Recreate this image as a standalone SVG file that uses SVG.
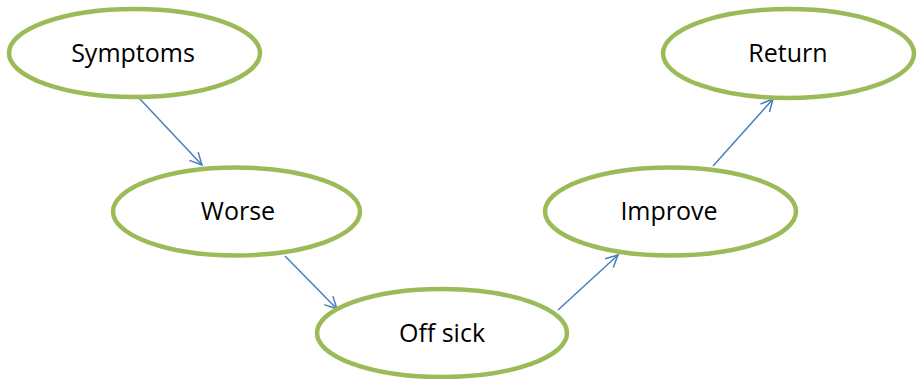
<svg xmlns="http://www.w3.org/2000/svg" width="924" height="379" viewBox="0 0 924 379">
<style>
.node ellipse{fill:#fff;stroke:#9BBB59;stroke-width:4.5}
.node text{font-family:"Open Sans","Liberation Sans",sans-serif;font-size:25px;fill:#000;text-anchor:middle}
.edge{stroke:#4A7EBB;stroke-width:1.5;fill:none;marker-end:url(#arr)}
</style>
<defs>
<marker id="arr" viewBox="0 0 14 14" refX="13" refY="7" markerWidth="14" markerHeight="14" markerUnits="userSpaceOnUse" orient="auto">
<path d="M1,1 L13,7 L1,13" fill="none" stroke="#4A7EBB" stroke-width="1.5"/>
</marker>
</defs>
<rect width="924" height="379" fill="#fff"/>
<g id="connectors">
<line class="edge" x1="139" y1="98" x2="202" y2="165"/>
<line class="edge" x1="285" y1="256" x2="337" y2="309"/>
<line class="edge" x1="558" y1="310" x2="618" y2="255"/>
<line class="edge" x1="713" y1="166" x2="773" y2="99"/>
</g>
<g id="symptoms" class="node"><ellipse cx="134.5" cy="53" rx="125.5" ry="44"/><text x="133" y="62">Symptoms</text></g>
<g id="worse" class="node"><ellipse cx="236.5" cy="211.5" rx="123.5" ry="44"/><text x="238" y="220">Worse</text></g>
<g id="offsick" class="node"><ellipse cx="442" cy="333" rx="125" ry="44"/><text x="442" y="342">Off sick</text></g>
<g id="improve" class="node"><ellipse cx="670.5" cy="211.5" rx="125.5" ry="44"/><text x="669" y="220">Improve</text></g>
<g id="return" class="node"><ellipse cx="788.5" cy="53.5" rx="125.5" ry="44.5"/><text x="788" y="62">Return</text></g>
</svg>
